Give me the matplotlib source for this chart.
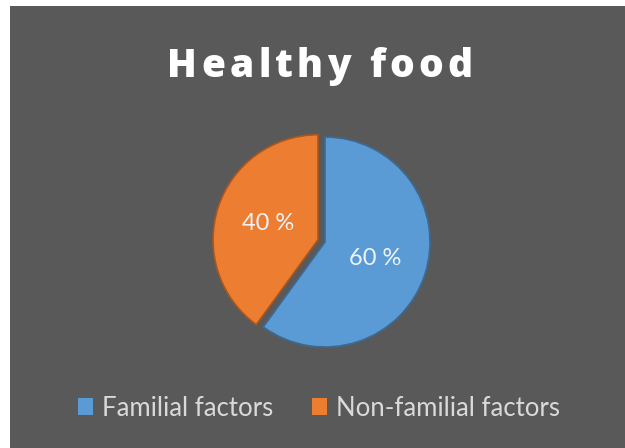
import matplotlib
matplotlib.use('Agg')
from matplotlib import pyplot
from matplotlib.patches import Rectangle, Patch

pyplot.rc('font', family=['Lato', 'DejaVu Sans'])

labels = ['Familial factors', 'Non-familial factors']
values = [60, 40]
colors = ['#5B9BD5', '#ED7D31']
edges = ['#3d6a94', '#a8561f']
title = 'Healthy food'

W, H = 625, 448
bg = '#595959'

fig = pyplot.figure(figsize=(W / 100, H / 100), dpi=100)
fig.patch.set_facecolor('white')
# grey chart area, white strip left and top
fig.patches.append(Rectangle((10 / W, 0), 1 - 10 / W, 1 - 6 / H,
                             transform=fig.transFigure, facecolor=bg,
                             edgecolor='none', zorder=-10))

# pie axes, centre (325, 242) px from top, radius 105 px
cx, cy, r = 325, H - 242, 105
half = 160
ax = fig.add_axes([(cx - half) / W, (cy - half) / H, 2 * half / W, 2 * half / H])

wedges, _, autotexts = ax.pie(values, colors=colors, startangle=90, counterclock=False,
                              explode=[0, 0.07], autopct='%d %%', pctdistance=0.5,
                              radius=1, wedgeprops=dict(linewidth=1.2),
                              textprops=dict(color='#eef3f8', fontsize=17))
for w, e in zip(wedges, edges):
    w.set_edgecolor(e)
ax.set_xlim(-half / r, half / r)
ax.set_ylim(-half / r, half / r)
ax.set_aspect('equal')
ax.axis('off')

# title with letter spacing, laid out char by char to span ~305 px
renderer = fig.canvas.get_renderer()
chars = []
total = 0
for ch in title:
    t = fig.text(0, 0, ch, color='white', fontsize=28, fontweight='heavy',
                 family=['Open Sans', 'DejaVu Sans'], va='baseline', ha='left')
    wpx = t.get_window_extent(renderer).width
    chars.append((t, wpx))
    total += wpx
spacing = max(0, (305 - total) / (len(title) - 1))
x = 320 - (total + spacing * (len(title) - 1)) / 2
for t, wpx in chars:
    t.set_position((x / W, 1 - 77 / H))
    x += wpx + spacing

handles = [Patch(facecolor=c, edgecolor='none', label=l) for c, l in zip(colors, labels)]
leg = fig.legend(handles=handles, loc='center', bbox_to_anchor=(319 / W, 1 - 408 / H),
                 ncol=2, frameon=False, fontsize=18.5, handlelength=0.6, handleheight=0.6,
                 handletextpad=0.35, columnspacing=1.5, labelcolor='#d9d9d9')

pyplot.savefig('out.png', dpi=100, facecolor=fig.get_facecolor())
